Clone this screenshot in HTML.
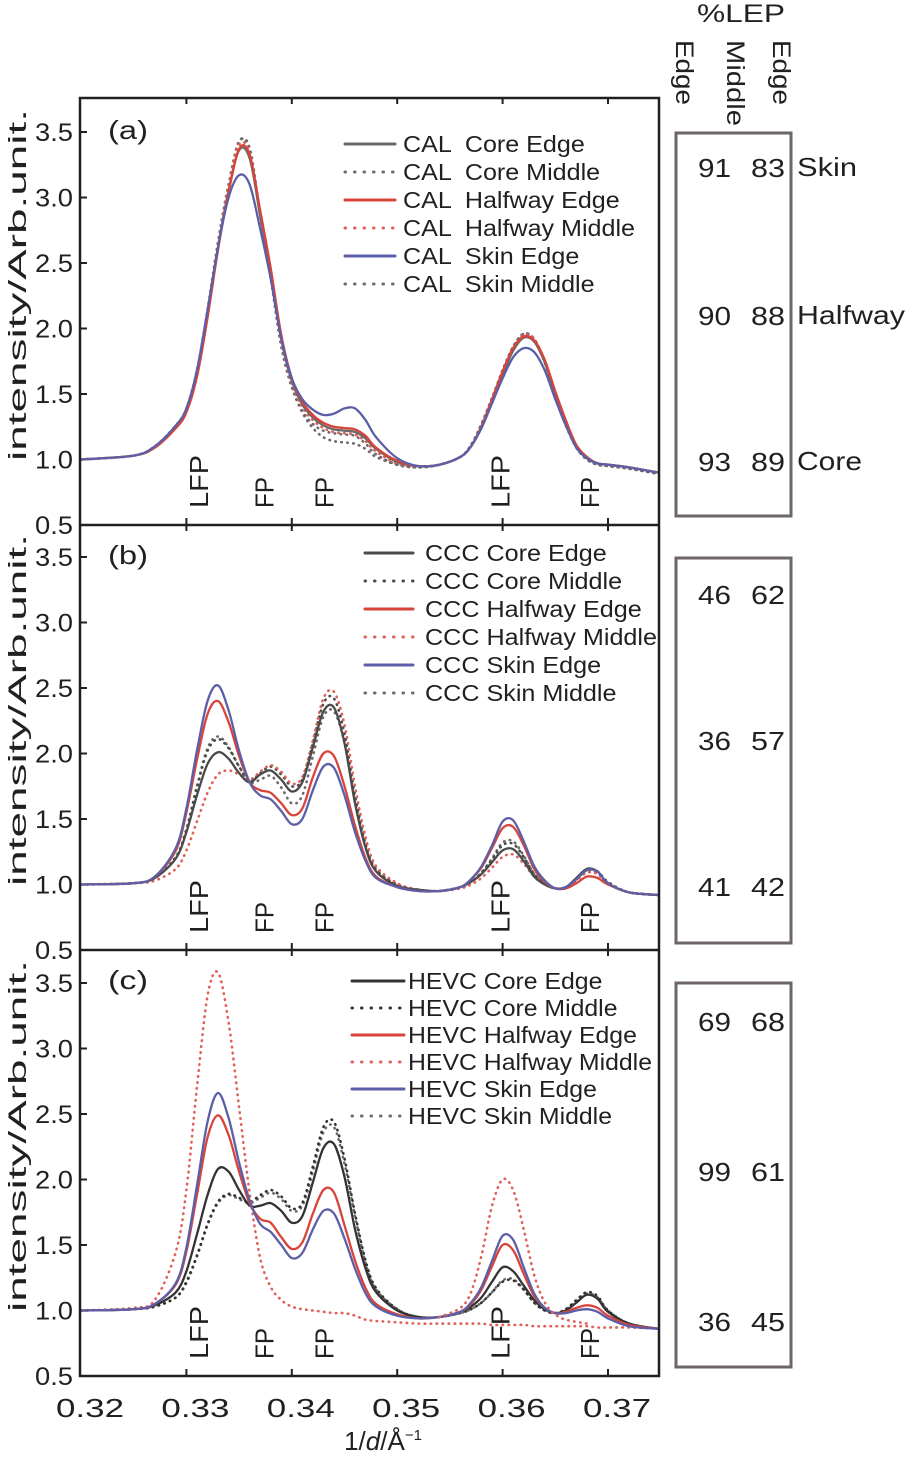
<!DOCTYPE html>
<html><head><meta charset="utf-8"><style>
html,body{margin:0;padding:0;background:#fff;}
svg{display:block;font-family:"Liberation Sans",sans-serif;}
</style></head><body>
<svg id="fig" width="916" height="1457" viewBox="0 0 916 1457" xmlns="http://www.w3.org/2000/svg"></svg>
<script>
const NS="http://www.w3.org/2000/svg";
const X=[0.320,0.325,0.327,0.329,0.330,0.331,0.332,0.333,0.334,0.335,0.336,0.337,0.338,0.339,0.340,0.341,0.342,0.343,0.344,0.345,0.346,0.347,0.348,0.350,0.352,0.354,0.356,0.357,0.358,0.359,0.360,0.361,0.362,0.363,0.364,0.365,0.366,0.367,0.368,0.369,0.370,0.372,0.3748];
const xTicks=[0.32,0.33,0.34,0.35,0.36,0.37];
const xTickLabels=["0.32","0.33","0.34","0.35","0.36","0.37"];
const yTicks=[0.5,1.0,1.5,2.0,2.5,3.0,3.5];
const yTickLabels=["0.5","1.0","1.5","2.0","2.5","3.0","3.5"];
const peakLabels=["LFP","FP","FP","LFP","FP"];
const peakPos=[0.3311,0.3373,0.3430,0.3597,0.3682];
const seriesNames=["Core Edge","Core Middle","Halfway Edge","Halfway Middle","Skin Edge","Skin Middle"];

const A_coreEdge=[1.0,1.03,1.10,1.25,1.37,1.65,2.10,2.62,3.05,3.36,3.30,2.86,2.42,1.92,1.60,1.42,1.32,1.26,1.23,1.22,1.21,1.16,1.08,0.98,0.95,0.96,1.02,1.10,1.25,1.45,1.65,1.83,1.93,1.90,1.74,1.50,1.28,1.10,1.01,0.97,0.96,0.94,0.90];
const A_coreMid=[1.0,1.03,1.10,1.26,1.39,1.68,2.14,2.66,3.10,3.42,3.38,2.88,2.40,1.88,1.56,1.36,1.24,1.17,1.14,1.13,1.12,1.08,1.02,0.96,0.94,0.96,1.02,1.11,1.27,1.47,1.68,1.86,1.96,1.92,1.74,1.48,1.26,1.09,1.00,0.96,0.95,0.93,0.89];
const A_halfEdge=[1.0,1.03,1.09,1.24,1.36,1.63,2.08,2.60,3.04,3.37,3.33,2.90,2.46,1.95,1.62,1.44,1.34,1.28,1.25,1.24,1.23,1.18,1.09,0.99,0.95,0.96,1.02,1.10,1.25,1.46,1.67,1.85,1.94,1.91,1.76,1.52,1.30,1.11,1.02,0.97,0.96,0.94,0.90];
const A_halfMid=[1.0,1.03,1.10,1.25,1.38,1.66,2.12,2.64,3.08,3.40,3.34,2.87,2.42,1.90,1.58,1.40,1.30,1.24,1.21,1.20,1.19,1.14,1.06,0.97,0.95,0.96,1.02,1.10,1.26,1.46,1.67,1.85,1.95,1.92,1.75,1.50,1.28,1.10,1.01,0.97,0.96,0.94,0.90];
const A_skinEdge=[1.0,1.03,1.10,1.26,1.39,1.68,2.14,2.62,3.00,3.17,3.10,2.76,2.38,1.92,1.62,1.46,1.38,1.34,1.35,1.39,1.39,1.30,1.17,1.01,0.95,0.96,1.02,1.10,1.24,1.43,1.62,1.78,1.85,1.82,1.68,1.46,1.26,1.09,1.01,0.97,0.96,0.94,0.90];
const A_skinMid=[1.0,1.03,1.10,1.26,1.39,1.68,2.14,2.66,3.10,3.43,3.36,2.86,2.38,1.86,1.55,1.37,1.27,1.22,1.20,1.19,1.18,1.12,1.04,0.96,0.94,0.96,1.02,1.11,1.27,1.47,1.68,1.86,1.96,1.92,1.74,1.48,1.26,1.09,1.00,0.96,0.95,0.93,0.89];

const B_coreEdge=[1.0,1.01,1.05,1.20,1.40,1.68,1.92,2.01,1.96,1.85,1.78,1.84,1.87,1.80,1.71,1.78,2.05,2.32,2.35,2.08,1.62,1.28,1.10,0.99,0.96,0.95,0.98,1.02,1.08,1.17,1.26,1.27,1.18,1.06,1.00,0.97,0.98,1.05,1.12,1.10,1.01,0.94,0.92];
const B_coreMid=[1.0,1.01,1.05,1.21,1.42,1.74,2.02,2.11,2.04,1.90,1.79,1.85,1.90,1.84,1.75,1.80,2.08,2.38,2.42,2.15,1.68,1.31,1.12,1.00,0.96,0.95,0.98,1.02,1.09,1.19,1.30,1.31,1.21,1.08,1.01,0.97,0.98,1.04,1.11,1.10,1.02,0.94,0.92];
const B_halfEdge=[1.0,1.01,1.06,1.26,1.55,1.95,2.30,2.40,2.24,1.98,1.78,1.72,1.70,1.62,1.53,1.58,1.82,2.00,1.98,1.75,1.45,1.20,1.06,0.98,0.95,0.95,0.98,1.04,1.13,1.28,1.43,1.44,1.30,1.12,1.02,0.97,0.97,1.01,1.06,1.05,1.00,0.94,0.92];
const B_halfMid=[1.0,1.01,1.03,1.12,1.26,1.48,1.70,1.84,1.87,1.84,1.80,1.86,1.91,1.86,1.77,1.82,2.10,2.42,2.47,2.22,1.75,1.36,1.14,1.01,0.96,0.95,0.97,1.00,1.05,1.13,1.21,1.23,1.16,1.06,1.00,0.97,0.97,1.03,1.09,1.08,1.01,0.94,0.92];
const B_skinEdge=[1.0,1.01,1.06,1.28,1.58,2.02,2.40,2.52,2.33,2.02,1.78,1.68,1.65,1.56,1.46,1.50,1.72,1.90,1.89,1.68,1.40,1.18,1.05,0.98,0.95,0.95,0.98,1.04,1.14,1.30,1.48,1.49,1.33,1.14,1.03,0.97,0.98,1.04,1.11,1.10,1.01,0.94,0.92];
const B_skinMid=[1.0,1.01,1.05,1.21,1.42,1.75,2.04,2.13,2.05,1.90,1.78,1.80,1.83,1.74,1.62,1.68,1.98,2.28,2.32,2.08,1.64,1.29,1.11,1.00,0.96,0.95,0.98,1.02,1.09,1.20,1.32,1.33,1.22,1.08,1.01,0.97,0.98,1.04,1.10,1.09,1.01,0.94,0.92];

const C_coreEdge=[1.0,1.01,1.04,1.14,1.30,1.58,1.88,2.08,2.06,1.92,1.80,1.80,1.82,1.76,1.67,1.72,1.98,2.24,2.27,2.02,1.62,1.32,1.14,1.00,0.95,0.95,0.99,1.03,1.10,1.22,1.33,1.30,1.19,1.08,1.01,0.98,1.00,1.06,1.12,1.09,0.99,0.90,0.86];
const C_coreMid=[1.0,1.01,1.03,1.10,1.22,1.42,1.66,1.83,1.89,1.86,1.83,1.88,1.92,1.87,1.78,1.82,2.10,2.40,2.44,2.16,1.74,1.38,1.17,1.01,0.95,0.95,0.98,1.01,1.06,1.14,1.22,1.23,1.16,1.06,1.00,0.98,1.01,1.08,1.14,1.11,1.00,0.90,0.86];
const C_halfEdge=[1.0,1.01,1.05,1.20,1.45,1.88,2.32,2.49,2.34,2.06,1.82,1.70,1.67,1.56,1.47,1.52,1.74,1.92,1.90,1.65,1.38,1.17,1.05,0.97,0.94,0.95,0.99,1.05,1.16,1.34,1.50,1.46,1.28,1.11,1.02,0.98,0.99,1.02,1.04,1.02,0.96,0.89,0.86];
const C_halfMid=[1.0,1.02,1.08,1.45,1.92,2.70,3.40,3.58,3.20,2.55,1.90,1.40,1.18,1.08,1.03,1.01,1.00,0.99,0.98,0.98,0.96,0.93,0.92,0.91,0.90,0.90,0.90,0.90,0.90,0.89,0.89,0.89,0.89,0.88,0.88,0.88,0.88,0.88,0.88,0.87,0.87,0.87,0.86];
const C_halfMidPeakX=[0.354,0.356,0.357,0.358,0.359,0.360,0.361,0.362,0.363,0.364,0.365,0.366,0.368];
const C_halfMidPeak=[0.95,1.02,1.14,1.42,1.80,2.00,1.92,1.62,1.27,1.06,0.97,0.93,0.90];
const C_skinEdge=[1.0,1.01,1.05,1.21,1.48,1.95,2.44,2.66,2.47,2.13,1.84,1.66,1.60,1.50,1.40,1.44,1.62,1.76,1.74,1.55,1.32,1.13,1.03,0.96,0.94,0.95,0.99,1.06,1.18,1.38,1.57,1.54,1.33,1.13,1.02,0.98,0.98,1.00,1.01,0.99,0.94,0.88,0.86];
const C_skinMid=[1.0,1.01,1.03,1.10,1.21,1.41,1.65,1.82,1.88,1.85,1.82,1.86,1.90,1.85,1.76,1.80,2.06,2.36,2.40,2.12,1.72,1.36,1.16,1.01,0.95,0.95,0.98,1.01,1.06,1.14,1.23,1.24,1.16,1.06,1.00,0.98,1.01,1.07,1.13,1.10,1.00,0.90,0.86];

const lepA=[["91","83"],["90","88"],["93","89"]];
const lepB=[["46","62"],["36","57"],["41","42"]];
const lepC=[["69","68"],["99","61"],["36","45"]];
const lepRows=["Skin","Halfway","Core"];

const svg=document.getElementById('fig');
function el(tag,attrs,parent){const e=document.createElementNS(NS,tag);for(const k in attrs)e.setAttribute(k,attrs[k]);(parent||svg).appendChild(e);return e;}
function txt(s,attrs,parent){const t=el('text',attrs,parent);t.textContent=s;return t;}
function fit(t,len){t.setAttribute('textLength',len);t.setAttribute('lengthAdjust','spacingAndGlyphs');}

const PL=80,PR=659;
function xs(v){return 81+(v-0.32)*10540;}
const panels=[
 {id:'a',bottom:525,tag:'(a)',prefix:'CAL',data:[A_coreEdge,A_coreMid,A_halfEdge,A_halfMid,A_skinEdge,A_skinMid],core:'#6a6a6a',
  leg:{lx1:345,lx2:395,tx:403,y0:144,dy:28,sp:'  ',target:232}},
 {id:'b',bottom:950,tag:'(b)',prefix:'CCC',data:[B_coreEdge,B_coreMid,B_halfEdge,B_halfMid,B_skinEdge,B_skinMid],core:'#4a4a4a',
  leg:{lx1:365,lx2:413,tx:425,y0:553,dy:28,sp:' ',target:232}},
 {id:'c',bottom:1376,tag:'(c)',prefix:'HEVC',data:[C_coreEdge,C_coreMid,C_halfEdge,C_halfMid,C_skinEdge,C_skinMid],core:'#333333',
  leg:{lx1:352,lx2:404,tx:408,y0:981,dy:27,sp:' ',target:244}}
];
const tops=[98,525,950];

function pathD(xv,yv,ys){
 const p=xv.map((x,i)=>[xs(x),ys(yv[i])]);
 let d='M'+p[0][0].toFixed(1)+' '+p[0][1].toFixed(1);
 for(let i=0;i<p.length-1;i++){
  const p0=p[Math.max(0,i-1)],p1=p[i],p2=p[i+1],p3=p[Math.min(p.length-1,i+2)];
  const c1=[p1[0]+(p2[0]-p0[0])/6,p1[1]+(p2[1]-p0[1])/6];
  const c2=[p2[0]-(p3[0]-p1[0])/6,p2[1]-(p3[1]-p1[1])/6];
  d+=' C'+c1[0].toFixed(1)+' '+c1[1].toFixed(1)+' '+c2[0].toFixed(1)+' '+c2[1].toFixed(1)+' '+p2[0].toFixed(1)+' '+p2[1].toFixed(1);
 }
 return d;
}

panels.forEach((P,pi)=>{
 const g=el('g',{});
 
 
 const ys=v=>P.bottom-(v-0.5)*131;
 const clipId='clip'+P.id;
 const cp=el('clipPath',{id:clipId},g);
 el('rect',{x:PL,y:tops[pi],width:PR-PL,height:P.bottom-tops[pi]},cp);
 yTicks.forEach((v,i)=>{
  const t=el('line',{x1:PL,x2:PL+7,y1:ys(v),y2:ys(v),stroke:'#231f20','stroke-width':2},g);
  
  
  const l=txt(yTickLabels[i],{x:35,y:ys(v)+9,'font-size':25,fill:'#231f20'},g);
  fit(l,38);
  
  
 });
 xTicks.forEach(v=>{
  if(v<=0.32)return;
  const t=el('line',{x1:xs(v),x2:xs(v),y1:P.bottom,y2:P.bottom-7,stroke:'#231f20','stroke-width':2},g);
  
  
  const t2=el('line',{x1:xs(v),x2:xs(v),y1:tops[pi],y2:tops[pi]+6,stroke:'#231f20','stroke-width':2},g);
  
  
 });
 const yt=txt('intensity/Arb.unit.',{x:0,y:0,'font-size':25,fill:'#231f20','text-anchor':'middle',transform:'translate(26,'+(P.bottom-240)+') rotate(-90)'},g);
 fit(yt,352);
 
 
 const pt=txt(P.tag,{x:108,y:tops[pi]+(pi==0?41:39),'font-size':26,fill:'#231f20'},g);
 fit(pt,40);
 
 
 peakLabels.forEach((s,i)=>{
  const px=xs(peakPos[i])+10;
  const t=txt(s,{x:0,y:0,'font-size':26,fill:'#231f20',transform:'translate('+px.toFixed(1)+','+(P.bottom-17)+') rotate(-90)'},g);
  fit(t,s.length===3?53:31);
  
  
 });
 const colors=[P.core,P.core,'#d8443a','#e0605a','#5c5fa8','#6a6a6a'];
 const dotted=[false,true,false,true,false,true];
 const sg=el('g',{'clip-path':'url(#'+clipId+')'},g);
 const order=[5,1,3,0,2,4];
 order.forEach(k=>{
  const path=el('path',{d:pathD(X,P.data[k],ys),fill:'none',stroke:colors[k],'stroke-width':dotted[k]?2.6:2.3,'stroke-linecap':'round','stroke-dasharray':dotted[k]?'0.5 5.5':'none'},sg);
  
  
 });
 if(P.id==='c'){
  const pk=el('path',{d:pathD(C_halfMidPeakX,C_halfMidPeak,ys),fill:'none',stroke:'#e0605a','stroke-width':2.6,'stroke-linecap':'round','stroke-dasharray':'0.5 5.5'},sg);
  
  
 }
 const L=P.leg;
 const texts=[];
 seriesNames.forEach((n,k)=>{
  const y=L.y0+k*L.dy;
  const ln=el('line',{x1:L.lx1,x2:L.lx2,y1:y,y2:y,stroke:colors[k],'stroke-width':3,'stroke-linecap':'round','stroke-dasharray':dotted[k]?'0.5 9':'none'},g);
  
  
  const t=txt(P.prefix+L.sp+n,{x:L.tx,y:y+8,'font-size':23,fill:'#231f20'},g);
  t.setAttribute('style','white-space:pre');
  
  
  texts.push(t);
 });
 const longest=texts[3].getComputedTextLength()||1;
 const f=L.target/longest;
 texts.forEach(t=>{const w=t.getComputedTextLength();if(w>0)fit(t,(w*f).toFixed(1));});
});

const fr=el('rect',{x:PL,y:98,width:PR-PL,height:1376-98,fill:'none',stroke:'#231f20','stroke-width':2.5});


[525,950].forEach(y=>{
 const l=el('line',{x1:PL,x2:PR,y1:y,y2:y,stroke:'#231f20','stroke-width':2.5});
 
 
});
xTicks.forEach((v,i)=>{
 const t=txt(xTickLabels[i],{x:xs(v)+9-34,y:1417,'font-size':26,fill:'#231f20'});
 fit(t,68);
 
 
});
const xt=el('text',{x:383,y:1450,'text-anchor':'middle','font-size':26,fill:'#231f20'});


xt.innerHTML='1/<tspan font-style="italic">d</tspan>/Å<tspan font-size="15" dy="-10">−1</tspan>';

const hd=txt('%LEP',{x:697,y:22,'font-size':25,fill:'#231f20'});
fit(hd,88);


[['Edge',676,65],['Middle',727,86],['Edge',773,65]].forEach(([s,x,w])=>{
 const t=txt(s,{x:0,y:0,'font-size':25,fill:'#231f20',transform:'translate('+x+',40) rotate(90)'});
 fit(t,w);
 
 
});
const boxes=[[133,516,lepA,[167,315,461]],[558,943,lepB,[594,740,886]],[983,1367,lepC,[1021,1171,1321]]];
const rowW=[60,108,65];
boxes.forEach(([y1,y2,vals,rows],bi)=>{
 const r=el('rect',{x:676,y:y1,width:115,height:y2-y1,fill:'none',stroke:'#6d6667','stroke-width':3});
 
 
 vals.forEach((pair,ri)=>{
  const y=rows[ri]+10;
  const a=txt(pair[0],{x:698,y:y,'font-size':26,fill:'#231f20'});
  fit(a,33);
  
  
  const b=txt(pair[1],{x:751,y:y,'font-size':26,fill:'#231f20'});
  fit(b,34);
  
  
  if(bi===0){
   const rl=txt(lepRows[ri],{x:797,y:y-1,'font-size':26,fill:'#231f20'});
   fit(rl,rowW[ri]);
   
   
  }
 });
});
</script>
</body></html>
